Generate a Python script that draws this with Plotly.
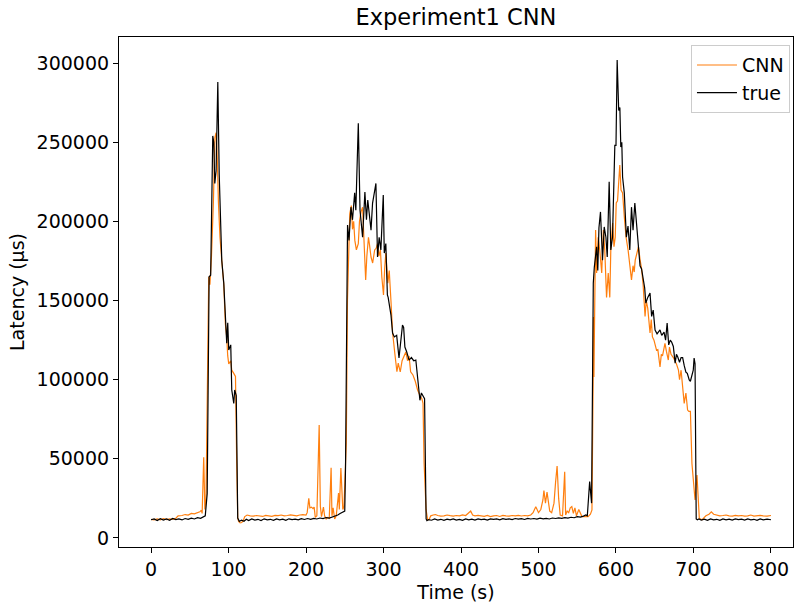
import plotly.graph_objects as go

# ---- data: true latency (black) ----
t_true = [0, 4, 8, 12, 16, 20, 24, 28, 32, 36, 40, 44, 48, 52, 56, 60, 64, 68, 70, 72.5, 74, 75, 77, 79.7, 81, 82.3, 84, 86.2, 88, 90, 91.3, 93.9, 97.7, 99, 100.3, 102.9, 104.2, 106.8, 108, 110, 111.9,
          114, 117, 120, 123, 126, 130, 134, 138, 142, 146, 150, 154, 158, 162, 166, 170, 174, 178, 182, 186, 190, 194, 198, 202, 206, 210, 214, 218, 222, 226, 230, 234, 238, 241, 244, 247, 250, 251, 252.5,
          253.6, 255.5, 258, 260, 262.8, 264.3, 267.5, 269.7, 273, 276, 278, 279.7, 281.8, 283.9, 285.9, 288, 290.2, 292.3, 294.4, 296.6, 299.7, 301, 303, 305, 306, 309.6, 311.7, 314, 317, 320, 322, 324.5, 326, 327.6, 330, 333, 336, 339, 341.7, 344, 347, 348.9, 351.5, 353, 355,
          356, 358, 362, 366, 370, 374, 378, 382, 386, 390, 394, 398, 402, 406, 410, 414, 418, 422, 426, 430, 434, 438, 442, 446, 450, 454, 458, 462, 466, 470, 474, 478, 482, 486, 490, 494, 498, 502, 506, 510, 514, 518, 522, 526, 530, 534, 538, 542, 546, 550, 554, 558, 561, 563,
          566, 568.5, 570.7, 572, 575, 576.5, 578, 580, 582.6, 584.8, 587, 588.7, 591.2, 593.3, 595.5, 598.5, 600, 601.5, 603.5, 605, 606.2, 607.5, 608.5, 610.7, 613.4, 615.5, 617.8, 620, 622, 624.3, 626, 628.5, 631, 633, 635.4, 637, 638.5, 641, 643.9, 646, 648, 650.4, 653, 656.8, 659, 662, 664, 666, 668, 670, 671.8, 674, 676.3, 678, 679.7, 682, 684, 686, 688, 690.2, 692, 694.5, 696, 699.7, 700.8, 702, 703.5,
          705, 707, 710, 714, 718, 722, 726, 730, 734, 738, 742, 746, 750, 754, 758, 762, 766, 770, 774, 778, 782, 786, 790, 795, 800]
v_true = [11500, 12000, 11000, 12200, 11300, 12000, 11200, 12300, 11600, 12000, 11400, 12300, 11800, 12500, 12000, 12800, 12400, 13500, 14000, 28000, 100000, 165000, 166000, 254000, 250000, 224000, 232000, 288000, 230000, 185000, 175500, 161000, 123000, 136000, 118800, 122000, 93500, 85000, 93500, 90000, 12600,
          10500, 11300, 10600, 11800, 11000, 12000, 11300, 11800, 11000, 12100, 11400, 11800, 11200, 12000, 11500, 11900, 11200, 12100, 11600, 11900, 11400, 12200, 11700, 12300, 11800, 12400, 12000, 12600, 12200, 12900, 12600, 13300, 13600, 14500, 15500, 16500, 17000, 45000, 130000,
          197700, 188000, 209000, 201000, 218000, 207000, 262000, 207000, 190000, 218500, 201000, 213500, 203000, 194500, 211600, 218000, 224000, 177500, 190000, 182000, 216600, 180000, 186000, 153500, 152000, 141000, 129500, 127000, 128000, 113700, 123000, 134500, 133000, 120600, 117500, 112400, 114000, 112000, 112400, 99800, 87000, 91600, 89000, 88000, 12000,
          11000, 11600, 11200, 12000, 11300, 11800, 11100, 11900, 11400, 12000, 11300, 11700, 11200, 12000, 11500, 11900, 11300, 12100, 11600, 11900, 11300, 12100, 11700, 12000, 11500, 12200, 11800, 12100, 11600, 12300, 11900, 12200, 11700, 12400, 12000, 12300, 11900, 12500, 12100, 12400, 12000, 12600, 12300, 12700, 12400, 12900, 12600, 13100, 12800, 13500, 13200, 13800, 14500, 14000,
          35600, 22000, 161000, 171000, 184000, 169000, 196000, 206000, 175500, 196500, 190000, 177500, 225000, 182000, 190000, 248000, 248000, 302000, 270000, 272000, 247000, 250000, 228000, 218000, 190000, 197000, 182000, 209000, 194500, 211600, 201000, 182000, 172000, 170000, 161000, 158000, 148400, 152000, 154700, 140000, 144000, 131400, 129000, 131400, 128000, 130000, 125000, 135800, 122000, 125000, 123800, 121000, 110500, 116000, 114300, 111000, 114000, 114000, 109000, 104800, 104000, 99800, 99000, 106000, 113700, 110000, 12000,
          11500, 12000, 11300, 11900, 11200, 12000, 11400, 11800, 11200, 12000, 11500, 11900, 11300, 12100, 11600, 11900, 11300, 12000, 11500, 11800, 11200, 12000, 11400, 11900, 11500]

# ---- data: CNN prediction (orange) ----
t_cnn = [0, 4, 8, 12, 16, 20, 24, 28, 32, 35, 40, 44, 48, 52, 56, 60, 63, 65, 66, 68, 69.5, 71, 72.5, 74.5, 76, 78, 80.5, 82.5, 84, 85.5, 87, 89, 91.3, 93.9, 96, 97.7, 99, 100.3, 102.9, 104.2, 106.8, 108, 109, 110.5, 111.9,
         113, 115, 117, 119, 121, 124, 128, 132, 136, 140, 144, 148, 152, 156, 160, 164, 168, 172, 176, 180, 184, 188, 192, 196, 200, 201.5, 203.6, 205, 207, 209, 210.5, 212, 214, 217, 218.5, 220, 222.5, 224, 226, 228, 230, 232.4, 233.5, 235, 237, 239, 242, 243, 245, 246, 247.5, 249, 250.8, 252, 253.5,
         255, 256.5, 258.5, 260, 261.5, 263, 265, 267.5, 269, 271, 273, 275, 277, 278.5, 280.6, 282, 283.9, 286, 288.6, 290.5, 292.3, 294, 296, 297.8, 300, 301.5, 303, 305.6, 307.4, 309.6, 311.7, 314.5, 317.3, 319, 321.6, 324, 326.5, 328.8, 331, 333, 335, 336.5, 338, 341, 344, 347, 349.5, 351, 352.4, 355, 357,
         359, 361, 364, 367, 370, 374, 378, 382, 386, 390, 394, 398, 402, 406, 409, 412.5, 415, 418, 422, 426, 430, 434, 438, 442, 446, 450, 454, 458, 462, 466, 470, 474, 478, 482, 486, 490, 493, 496.5, 500, 503, 505.7, 507, 509, 511, 513, 514.5, 517, 520, 522, 524, 526, 528, 531, 533.8, 535, 537, 539, 541, 543, 545, 547, 549, 552, 556, 560, 564, 567, 569,
         570.5, 571, 571.5, 573.7, 575, 577, 579, 581.6, 583.7, 585.5, 587.8, 590, 592, 593.3, 595.7, 597.4, 599, 600.3, 602, 604.9, 606.5, 608.5, 610.7, 613, 615.6, 617.7, 620, 622, 623.5, 624.8, 627.6, 629, 631, 633, 635, 637.5, 639, 641, 643.9, 645.5, 647, 649, 652.3, 654, 656.8, 658.5, 660, 663.2, 665, 667.5, 669, 671, 674, 676, 678, 680.6, 682, 684, 686.8, 688, 690.2, 692.4, 694, 696, 698, 700, 702, 704.5, 706, 707.5,
         709, 711, 713, 716, 720, 723, 726, 730, 734, 738, 742, 746, 750, 754, 758, 762, 766, 770, 774, 778, 782, 786, 790, 795, 800]
v_cnn = [11800, 11500, 12000, 11400, 12200, 11600, 12000, 11800, 12500, 14000, 14200, 14800, 14500, 15500, 15200, 16000, 16500, 17500, 15500, 51000, 18000, 25000, 87000, 165000, 160000, 178000, 212000, 253000, 256000, 240000, 212000, 190000, 175500, 160000, 135000, 127000, 115000, 110000, 112000, 106000, 104000, 103000, 102000, 50000, 12600,
         10500, 9500, 9800, 11000, 13500, 14500, 14000, 13800, 14200, 14000, 13600, 14300, 14000, 13700, 14300, 14100, 14500, 14000, 14200, 14600, 14300, 14000, 14500, 14800, 14500, 16000, 25000, 19000, 19500, 18500, 19500, 13000, 14000, 71400, 20000, 13500, 19500, 14000, 12000, 13000, 12500, 44400, 14000, 19000, 12000, 14000, 28400, 18000, 44200, 30000, 18000, 20000, 53700, 60000, 150000,
         184000, 205000, 210000, 195000, 200000, 188000, 182000, 186000, 200000, 206000, 209000, 185000, 163000, 178000, 190000, 185000, 177500, 173700, 182000, 183000, 186000, 178000, 182000, 165000, 153500, 170000, 180000, 161000, 169000, 150000, 130000, 117000, 105000, 110500, 105000, 112000, 115000, 117500, 112000, 115000, 105000, 104000, 103000, 99000, 93500, 90000, 88000, 85000, 47000, 17700, 11400,
         11800, 14000, 14500, 14800, 14200, 13800, 14000, 14500, 14100, 13800, 14200, 14000, 14600, 14200, 15500, 17000, 14500, 14000, 14300, 13800, 13700, 14200, 13500, 14000, 14200, 13600, 14300, 14000, 13800, 14200, 14000, 14300, 13900, 14200, 14000, 14500, 16000, 19800, 16000, 18000, 24000, 30000, 22000, 29000, 21000, 17000, 16000, 22000, 35000, 45500, 25000, 14500, 14000, 41900, 14500, 17000, 16000, 19000, 19800, 15500, 19000, 14000, 18000, 13500, 13500, 13500, 15000, 17700,
         100000, 139600, 101700, 194500, 167400, 190000, 182000, 167400, 194500, 182000, 152000, 167400, 152000, 182000, 199000, 184000, 190000, 211600, 213000, 235600, 219800, 218000, 203000, 190000, 182000, 171000, 163000, 172000, 168000, 175500, 182000, 184000, 176000, 170000, 160000, 140000, 150000, 145000, 129500, 138000, 127000, 125000, 118700, 119000, 108000, 116000, 115000, 123000, 118000, 112400, 120600, 116000, 114000, 112000, 110000, 106000, 100000, 106000, 93500, 85000, 91600, 80800, 80000, 80000, 47000, 34000, 24000, 39800, 25000, 12500,
         12000, 11500, 12500, 14000, 15000, 16500, 15000, 14500, 14000, 14200, 14500, 14000, 13800, 14300, 14000, 14200, 13800, 14000, 14500, 13800, 14000, 14300, 14000, 13800, 14200]

x_ticks = [0, 100, 200, 300, 400, 500, 600, 700, 800]
y_ticks = [0, 50000, 100000, 150000, 200000, 250000, 300000]

FONT = "DejaVu Sans"

fig = go.Figure()
fig.add_trace(go.Scatter(x=t_cnn, y=v_cnn, mode="lines", name="CNN",
                         line=dict(color="#ff7f0e", width=1.2)))
fig.add_trace(go.Scatter(x=t_true, y=v_true, mode="lines", name="true",
                         line=dict(color="#000000", width=1.2)))

axis_common = dict(showgrid=False, zeroline=False, showline=True, linecolor="black", linewidth=1.2,
                   mirror=True, ticks="outside", ticklen=5, tickwidth=1.2, tickcolor="black",
                   automargin=False,
                   tickfont=dict(family=FONT, size=19, color="black"))

fig.update_layout(
    width=795, height=605,
    margin=dict(l=119, r=2, t=37, b=58, autoexpand=False),
    paper_bgcolor="white", plot_bgcolor="white",
    title=dict(text="Experiment1 CNN", x=0.5735, xanchor="center", y=0.972, yanchor="middle",
               font=dict(family=FONT, size=22.5, color="black")),
    xaxis=dict(range=[-41.3, 828.4], tickvals=x_ticks, ticktext=[str(v) for v in x_ticks],
               title=dict(text="Time (s)", font=dict(family=FONT, size=19, color="black"), standoff=6),
               **axis_common),
    yaxis=dict(range=[-5700, 316500], tickvals=y_ticks, ticktext=[str(v) for v in y_ticks],
               title=dict(text="Latency (µs)", font=dict(family=FONT, size=19, color="black"), standoff=6),
               **axis_common),
    legend=dict(x=0.9955, y=0.984, xanchor="right", yanchor="top", bgcolor="rgba(255,255,255,0.8)",
                bordercolor="#cccccc", borderwidth=1, font=dict(family=FONT, size=19, color="black"),
                itemwidth=40, tracegroupgap=0),
    showlegend=True,
)

# remove the default page margin so the 795x605 figure fills the window exactly
fig.write_html("out.html",
               config={"displayModeBar": False},
               post_script="document.body.style.margin='0';document.body.style.overflow='hidden';")
